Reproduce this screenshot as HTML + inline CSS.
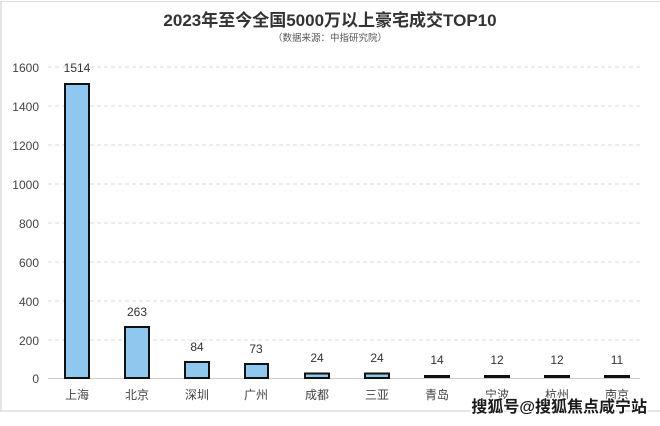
<!DOCTYPE html>
<html><head><meta charset="utf-8"><style>
body{margin:0;background:#fff}
svg text{font-family:"Liberation Sans","Noto Sans CJK SC",sans-serif}
</style></head><body>
<svg width="660" height="421" viewBox="0 0 660 421" xmlns="http://www.w3.org/2000/svg">
<rect x="0" y="0" width="660" height="421" fill="#fff"/>
<line x1="1" y1="2" x2="1" y2="411" stroke="#ccc"/>
<line x1="0" y1="411" x2="660" y2="411" stroke="#ccc"/>
<line x1="0" y1="1.5" x2="660" y2="1.5" stroke="#ddd"/>
<text x="330" y="26" text-anchor="middle" font-size="17" font-weight="bold" fill="#333">2023年至今全国5000万以上豪宅成交TOP10</text>
<text x="330" y="41" text-anchor="middle" font-size="9.5" fill="#555">（数据来源：中指研究院）</text>
<g stroke="#d9d9d9" stroke-dasharray="4,3">
<line x1="48" y1="67" x2="640" y2="67"/><line x1="48" y1="106" x2="640" y2="106"/>
<line x1="48" y1="145" x2="640" y2="145"/><line x1="48" y1="184" x2="640" y2="184"/>
<line x1="48" y1="223" x2="640" y2="223"/><line x1="48" y1="262" x2="640" y2="262"/>
<line x1="48" y1="301" x2="640" y2="301"/><line x1="48" y1="340" x2="640" y2="340"/>
</g>
<line x1="48" y1="378.5" x2="640" y2="378.5" stroke="#ccc"/>
<g font-size="12" fill="#444" text-anchor="end">
<text x="39" y="72">1600</text><text x="39" y="111">1400</text><text x="39" y="150">1200</text>
<text x="39" y="189">1000</text><text x="39" y="228">800</text><text x="39" y="267">600</text>
<text x="39" y="306">400</text><text x="39" y="345">200</text><text x="39" y="383">0</text>
</g>
<g fill="#8ec8ee" stroke="#111" stroke-width="2">
<rect x="65" y="84" width="24" height="294"/>
<rect x="125" y="327" width="24" height="51"/>
<rect x="185" y="362" width="24" height="16"/>
<rect x="245" y="364" width="23" height="14"/>
<rect x="305" y="373.5" width="24" height="4.5"/>
<rect x="365" y="373.5" width="24" height="4.5"/>
</g>
<g fill="#111">
<rect x="424" y="375" width="26" height="3"/>
<rect x="484" y="375" width="26" height="3"/>
<rect x="544" y="375" width="26" height="3"/>
<rect x="604" y="375" width="26" height="3"/>
</g>
<g font-size="12" fill="#333" text-anchor="middle">
<text x="77" y="72">1514</text><text x="137" y="316">263</text><text x="197" y="351">84</text>
<text x="256" y="353">73</text><text x="317" y="362">24</text><text x="377" y="362">24</text>
<text x="437" y="364">14</text><text x="497" y="364">12</text><text x="557" y="364">12</text><text x="617" y="364">11</text>
</g>
<g font-size="12" fill="#444" text-anchor="middle">
<text x="77" y="399">上海</text><text x="137" y="399">北京</text><text x="197" y="399">深圳</text>
<text x="256" y="399">广州</text><text x="317" y="399">成都</text><text x="377" y="399">三亚</text>
<text x="437" y="399">青岛</text><text x="497" y="399">宁波</text><text x="557" y="399">杭州</text><text x="617" y="399">南京</text>
</g>
<text x="647" y="412" text-anchor="end" font-size="16" font-weight="bold" fill="#1a1a1a" stroke="#fff" stroke-width="2.5" paint-order="stroke">搜狐号@搜狐焦点咸宁站</text>
</svg>
</body></html>
